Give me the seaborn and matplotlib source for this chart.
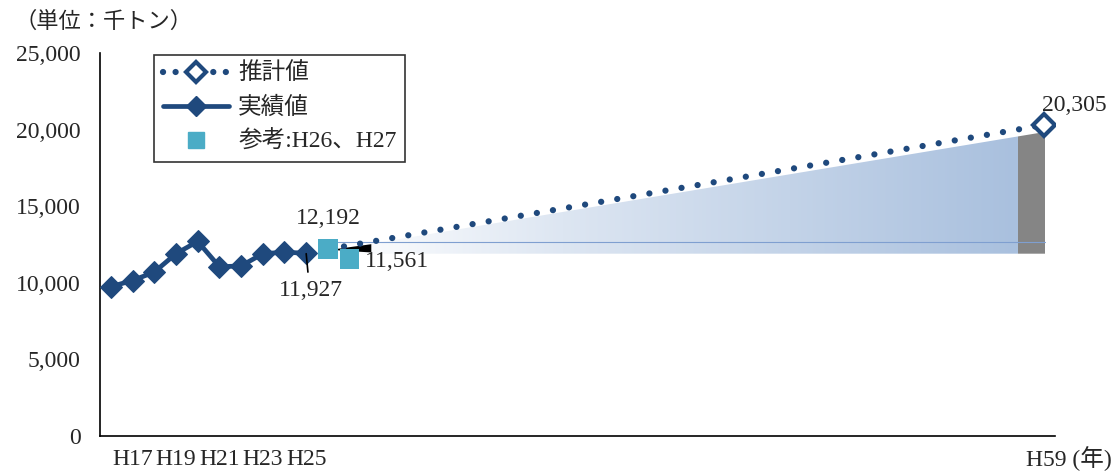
import numpy as np
import matplotlib
matplotlib.use("Agg")
import matplotlib.pyplot as plt
from matplotlib.lines import Line2D
from matplotlib.patches import Polygon
from matplotlib.colors import LinearSegmentedColormap
import seaborn as sns
import pandas as pd

# ---- data ----
categories = ["H%d" % y for y in range(16, 60)]          # H16 ... H59
shown_ticks = ["H17", "H19", "H21", "H23", "H25"]

actual_years = ["H16", "H17", "H18", "H19", "H20", "H21", "H22", "H23", "H24", "H25"]
actual_values = [9750, 10150, 10700, 11900, 12700, 11050, 11100, 11900, 12000, 11927]

ref_years = ["H26", "H27"]
ref_values = [12192, 11561]

proj_years = ["H26", "H59"]
proj_values = [12192, 20305]

# shaded wedge under the projection (left edge, right edge, grey band start)
shade_x = [10.3, 43.05, 41.8]
shade_bottom = 11900
shade_top = [12150, 19850]
shade_line = 12650

NAVY = "#1f497d"
CYAN = "#4bacc6"

sns.set_theme(style="white")
plt.rcParams["font.family"] = ["Liberation Serif", "Noto Sans CJK JP"]

pos = {c: i for i, c in enumerate(categories)}
df_act = pd.DataFrame({"x": [pos[c] for c in actual_years], "y": actual_values})
df_ref = pd.DataFrame({"x": [pos[c] for c in ref_years], "y": ref_values})
df_proj = pd.DataFrame({"x": [pos[c] for c in proj_years], "y": proj_values})

fig = plt.figure(figsize=(11.16, 4.73), dpi=100)
ax = fig.add_axes([100 / 1116, 1 - 436 / 473, 955 / 1116, 383 / 473])

# gradient shaded area
x0, x1, xg = shade_x
poly = Polygon([(x0, shade_bottom), (x0, shade_top[0]), (x1, shade_top[1]), (x1, shade_bottom)],
               closed=True, facecolor="none", edgecolor="none")
ax.add_patch(poly)
cmap = LinearSegmentedColormap.from_list("fade", ["#ffffff", "#dde6f2", "#c3d3e8", "#a9c0de"])
grad = np.linspace(0, 1, 256).reshape(1, -1)
im = ax.imshow(grad, cmap=cmap, aspect="auto", extent=[x0, xg, shade_bottom, shade_top[1] + 200],
               zorder=1, interpolation="bicubic")
im.set_clip_path(poly)
band = Polygon([(xg, shade_bottom), (xg, shade_top[1]), (x1, shade_top[1]), (x1, shade_bottom)],
               closed=True, facecolor="#858585", edgecolor="none", zorder=1)
ax.add_patch(band)
band.set_clip_path(poly)
ax.plot([pos["H26"], x1], [shade_line, shade_line], color="#7f9fd0", lw=0.8, zorder=2)
# small dark wedge
ax.add_patch(Polygon([(10.1, 12150), (12.0, 11980), (12.0, 12520)], closed=True,
                     facecolor="black", edgecolor="none", zorder=3))

# projection (dotted)
sns.lineplot(data=df_proj, x="x", y="y", ax=ax, color=NAVY, lw=4.5,
             linestyle=(0, (0.01, 2.6)), dash_capstyle="round", zorder=4)
ax.plot(df_proj["x"].iloc[-1], df_proj["y"].iloc[-1], marker="D", ms=11, mfc="white",
        mec=NAVY, mew=3, zorder=6)

# actual values
sns.lineplot(data=df_act, x="x", y="y", ax=ax, color=NAVY, lw=3.4, marker="D",
             markersize=11, markeredgecolor=NAVY, zorder=5)

# reference squares
sns.scatterplot(data=df_ref, x="x", y="y", ax=ax, color=CYAN, marker="s", s=200,
                edgecolor="none", zorder=5)

# value labels
lab_fs = 17
ax.text(pos["H26"], 13500, f"{ref_values[0]:,}", ha="center", va="bottom", fontsize=lab_fs)
ax.plot([pos["H25"], pos["H25"] + 0.08], [11900, 10700], color="black", lw=1.2, zorder=6)
ax.text(pos["H25"] + 0.2, 10200, f"{actual_values[-1]:,}", ha="center", va="top", fontsize=lab_fs)
ax.text(pos["H27"] + 0.7, 12050, f"{ref_values[1]:,}", ha="left", va="top", fontsize=lab_fs)
ax.text(pos["H59"] + 1.4, 20900, f"{proj_values[-1]:,}", ha="center", va="bottom", fontsize=lab_fs)

# axes
ax.set_xlim(-0.5, len(categories) - 0.5)
ax.set_ylim(0, 25000)
ax.set_yticks(range(0, 25001, 5000))
ax.set_yticklabels([f"{v:,}" for v in range(0, 25001, 5000)], fontsize=17)
ax.set_xticks([pos[c] for c in shown_ticks])
ax.set_xticklabels(shown_ticks, fontsize=17)
ax.set_xticks(np.arange(-0.5, len(categories)), minor=True)
ax.tick_params(axis="x", which="major", length=0, pad=9)
ax.tick_params(axis="x", which="minor", direction="in", length=4, color="#555555", width=0.8)
ax.tick_params(axis="y", direction="in", length=6, color="#888888", width=0.8, pad=14)
fig.text(1112 / 1116, 1 - 459 / 473, "H59 (年)", ha="right", va="center", fontsize=17)
ax.set_xlabel("")
ax.set_ylabel("")
for side in ["top", "right"]:
    ax.spines[side].set_visible(False)
for side in ["left", "bottom"]:
    ax.spines[side].set_color("black")
    ax.spines[side].set_linewidth(1.2)

fig.text(15 / 1116, 1 - 22 / 473, "（単位：千トン）", fontsize=16, va="center", ha="left")

handles = [
    Line2D([], [], color=NAVY, lw=4.5, linestyle=(0, (0.01, 2.0)), dash_capstyle="round",
           marker="D", ms=10, mfc="white", mec=NAVY, mew=3),
    Line2D([], [], color=NAVY, lw=3.4, marker="D", ms=10),
    Line2D([], [], color=CYAN, lw=0, marker="s", ms=12),
]
leg = ax.legend(handles, ["推計値", "実績値", "参考:H26、H27"], loc="upper left",
                bbox_to_anchor=(0.057, 0.995), fontsize=17, frameon=True, fancybox=False,
                edgecolor="black", handlelength=2.8, labelspacing=0.5, borderpad=0.35,
                handletextpad=0.4, borderaxespad=0)
leg.get_frame().set_linewidth(1.2)

fig.savefig("out.png")
